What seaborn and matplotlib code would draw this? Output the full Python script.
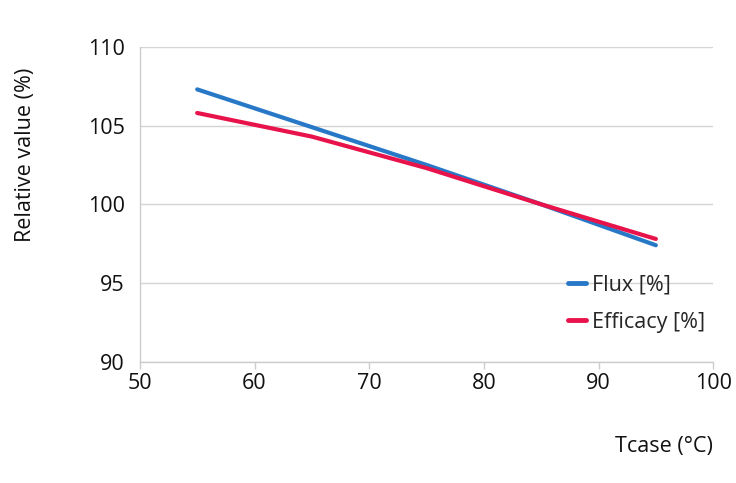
import matplotlib
matplotlib.use("Agg")
import matplotlib.pyplot as plt
import seaborn as sns
import pandas as pd

# Data
tcase = [55, 65, 75, 85, 95]
flux = [107.3, 104.9, 102.5, 100.0, 97.4]
efficacy = [105.8, 104.3, 102.3, 100.0, 97.8]

series_names = ["Flux [%]", "Efficacy [%]"]
series_colors = ["#2878c8", "#e8134a"]

x_ticks = [50, 60, 70, 80, 90, 100]
y_ticks = [90, 95, 100, 105, 110]

df = pd.DataFrame({
    "Tcase": tcase * 2,
    "value": flux + efficacy,
    "series": [series_names[0]] * len(tcase) + [series_names[1]] * len(tcase),
})

sns.set_theme(style="white")
plt.rcParams["font.family"] = ["Open Sans", "DejaVu Sans"]

fig = plt.figure(figsize=(7.36, 4.83), dpi=100)
ax = fig.add_axes([0.190, 0.251, 0.779, 0.652])

sns.lineplot(data=df, x="Tcase", y="value", hue="series",
             palette=dict(zip(series_names, series_colors)),
             linewidth=3, ax=ax)

ax.set_xlim(50, 100)
ax.set_ylim(90, 110)
ax.set_xticks(x_ticks)
ax.set_yticks(y_ticks)
ax.tick_params(axis="both", labelsize=15.5, colors="#111111")
ax.tick_params(axis="x", bottom=True, length=5, color="#cccccc", width=1, pad=3)
ax.tick_params(axis="y", left=False, pad=5)

ax.yaxis.grid(True, color="#d4d4d4", linewidth=1)
ax.xaxis.grid(False)
for side in ["top", "right"]:
    ax.spines[side].set_visible(False)
for side in ["left", "bottom"]:
    ax.spines[side].set_color("#cccccc")
    ax.spines[side].set_linewidth(1)

ax.set_xlabel("")
ax.set_ylabel("")
fig.text(0.969, 0.075, "Tcase (°C)", ha="right", va="center", fontsize=15.5, color="#111111")
fig.text(0.034, 0.68, "Relative value (%)", rotation=90, ha="center", va="center",
         fontsize=15.5, color="#111111")

leg = ax.legend(loc="lower right", bbox_to_anchor=(1.02, 0.03), frameon=False,
                fontsize=15.5, handlelength=0.8, handletextpad=0.3, labelspacing=0.75)
for h in leg.get_lines():
    h.set_linewidth(3.5)

fig.savefig("out.png", dpi=100)
